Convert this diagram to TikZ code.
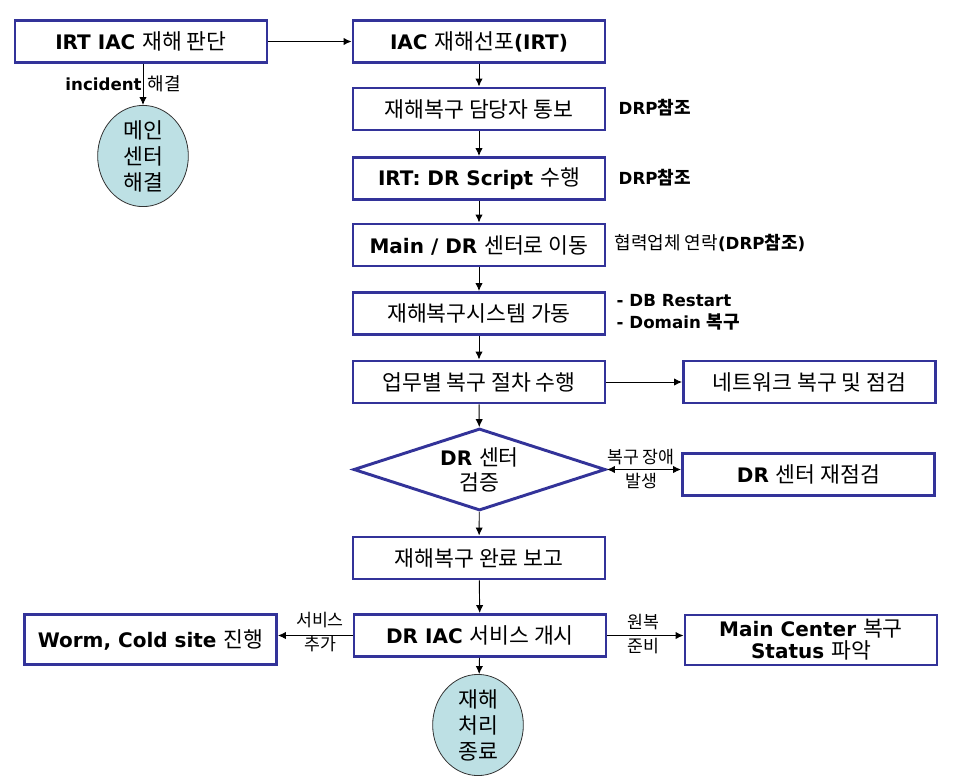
\documentclass[tikz,border=0pt]{standalone}
\usepackage{fontspec}
\setmainfont{DejaVu Sans}
\newfontfamily\krfont{Noto Sans CJK KR}[Scale=1.08]
\newcommand\ko[1]{{\krfont\mdseries#1}}
\newcommand\kb[1]{{\krfont#1}}
\usetikzlibrary{arrows.meta,shapes.geometric}
\definecolor{Frame}{HTML}{333399}
\definecolor{Pale}{HTML}{BDE0E4}

\begin{document}
\begin{tikzpicture}[x=0.75pt,y=-0.75pt,>={Latex[length=6pt,width=5.5pt]},
  every node/.style={font=\bfseries\fontsize{15}{18}\selectfont},
  stage/.style={draw=Frame,line width=2.2pt,minimum width=189pt,minimum height=31.5pt,inner sep=0pt,align=center},
  tall/.style={stage,minimum height=37.5pt,font=\bfseries\fontsize{15}{16.5}\selectfont},
  blob/.style={ellipse,draw=black!80,fill=Pale,line width=0.6pt,minimum width=68pt,minimum height=63pt,inner sep=0pt,align=center,font=\fontsize{15}{19.5}\selectfont},
  note/.style={font=\bfseries\fontsize{12.5}{16.5}\selectfont},
  split/.style={align=center,font=\fontsize{12}{17.5}\selectfont},
  flow/.style={->,line width=0.7pt}]
\useasboundingbox (0,0) rectangle (967,775);
% main column
\node[stage] (judge) at (141,41.5) {IRT IAC \ko{재해 판단}};
\node[stage] (declare) at (479,41.5) {IAC \ko{재해선포}(IRT)};
\node[stage] (notify) at (479,109) {\ko{재해복구 담당자 통보}};
\node[stage] (script) at (479,178.5) {IRT: DR Script \ko{수행}};
\node[stage] (move) at (479,245) {Main / DR \ko{센터로 이동}};
\node[stage] (boot) at (479,313.5) {\ko{재해복구시스템 가동}};
\node[stage] (proc) at (479,382) {\ko{업무별 복구 절차 수행}};
\node[diamond,draw=Frame,line width=2.2pt,minimum width=189pt,minimum height=61.5pt,inner sep=0pt] (check) at (479.5,469.5) {};
\node[align=center,font=\bfseries\fontsize{15}{18.75}\selectfont] (checktext) at (check) {DR \ko{센터}\\\ko{검증}};
\node[stage] (report) at (479,558) {\ko{재해복구 완료 보고}};
\node[stage] (open) at (480,635.5) {DR IAC \ko{서비스 개시}};
% side boxes
\node[stage] (net) at (809.5,382) {\ko{네트워크 복구 및 점검}};
\node[stage] (recheck) at (808.5,474.5) {DR \ko{센터 재점검}};
\node[tall] (worm) at (150.5,639.5) {Worm, Cold site \ko{진행}};
\node[tall] (mainc) at (811,640) {Main Center \ko{복구}\\Status \ko{파악}};
\node[blob] (solved) at (143,156) {\ko{메인}\\\ko{센터}\\\ko{해결}};
\node[blob] (done) at (478,725) {\ko{재해}\\\ko{처리}\\\ko{종료}};
% notes
\node[note] (inc) at (123,84) {incident \ko{해결}};
\node[note,anchor=west] (drpa) at (614,108) {DRP\kb{참조}};
\node[note,anchor=west] (drpb) at (614,178) {DRP\kb{참조}};
\node[note,anchor=west] (vendor) at (610,243) {\ko{협력업체 연락}(DRP\kb{참조})};
\node[note,anchor=west,align=left] (steps) at (612,312) {- DB Restart\\- Domain \kb{복구}};
\node[split] (fault) at (641,469) {\ko{복구 장애}\\\ko{발생}};
\node[split] (addsvc) at (320,632) {\ko{서비스}\\\ko{추가}};
\node[split] (back) at (643,634) {\ko{원복}\\\ko{준비}};
% connectors
\draw[flow] (judge) -- (declare);
\draw[flow] (solved.north |- judge.south) -- (solved.north);
\draw[flow] (declare) -- (notify);
\draw[flow] (notify) -- (script);
\draw[flow] (script) -- (move);
\draw[flow] (move) -- (boot);
\draw[flow] (boot) -- (proc);
\draw[flow] (proc) -- (check);
\draw[flow] (proc) -- (net);
\draw[<->,line width=0.7pt] (check.east) -- (check.east -| recheck.west);
\draw[flow] (check) -- (report);
\draw[flow] (report) -- (open);
\draw[flow] (open.west) -- (open.west -| worm.east);
\draw[flow] (open.east) -- (open.east -| mainc.west);
\draw[flow] (open) -- (done);
\end{tikzpicture}
\end{document}
